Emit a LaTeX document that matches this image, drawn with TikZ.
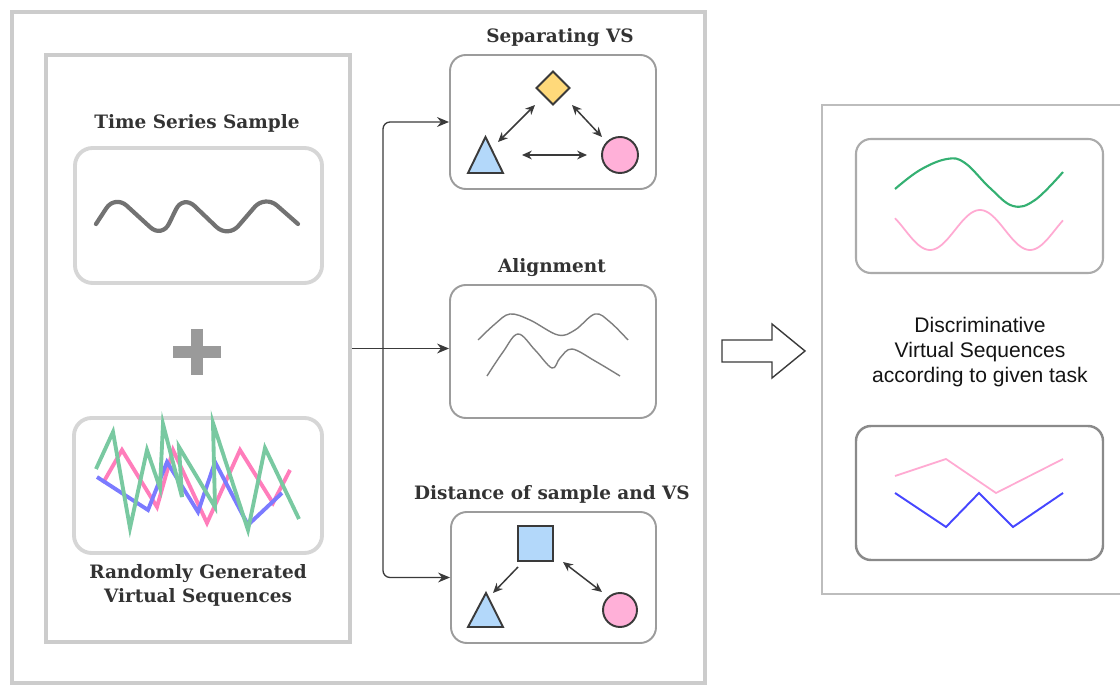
\documentclass[tikz,border=0pt]{standalone}
\usepackage{fontspec}
\setmainfont{Liberation Sans}
\newfontfamily\ttlfont{DejaVu Serif}
\usetikzlibrary{arrows.meta,shapes.geometric,calc}

\definecolor{framegray}{HTML}{CCCCCC}
\definecolor{cardlight}{HTML}{D6D6D6}
\definecolor{cardmid}{HTML}{9C9C9C}
\definecolor{cardright}{HTML}{ABABAB}
\definecolor{carddark}{HTML}{8A8A8A}
\definecolor{panelgray}{HTML}{BDBDBD}
\definecolor{inkdark}{HTML}{3A3A3A}
\definecolor{txt}{HTML}{333333}
\definecolor{wave}{HTML}{727272}
\definecolor{plusgray}{HTML}{9A9A9A}
\definecolor{mint}{HTML}{79C9A1}
\definecolor{rosy}{HTML}{FF7DBB}
\definecolor{violet}{HTML}{7B7BFF}
\definecolor{lightblue}{HTML}{B3D8FA}
\definecolor{lightpink}{HTML}{FFB0D8}
\definecolor{sand}{HTML}{FFD97A}
\definecolor{leaf}{HTML}{34B072}
\definecolor{softpink}{HTML}{FFAAD2}
\definecolor{deepblue}{HTML}{4646FF}
\definecolor{curvegray}{HTML}{7E7E7E}

\newdimen\pxu \pxu=0.02cm

\tikzset{
  bigframe/.style={draw=framegray, line width=2.8pt, inner sep=0pt},
  lightcard/.style={draw=cardlight, line width=2.2pt, rounded corners=10pt, inner sep=0pt},
  midcard/.style={draw=cardmid, line width=1.1pt, rounded corners=9pt, inner sep=0pt},
  ttl/.style={font=\ttlfont\bfseries\fontsize{10.5}{14}\selectfont, text=txt, inner sep=0pt},
  glyph/.style={draw=inkdark, line width=1.1pt, inner sep=0pt},
  conn/.style={draw=inkdark, line width=0.75pt, -{Stealth[length=6.8pt, width=5.6pt]}},
  dbl/.style={draw=inkdark, line width=0.85pt, {Stealth[length=5.6pt, width=5pt]}-{Stealth[length=5.6pt, width=5pt]}},
  sgl/.style={draw=inkdark, line width=0.85pt, -{Stealth[length=5.6pt, width=5pt]}},
  rough/.style={line width=2.2pt},
}

\begin{document}
\begin{tikzpicture}[x=0.02cm, y=-0.02cm]
\useasboundingbox (0,0) rectangle (1120,685);

% ---------- left part: frames ----------
\node[bigframe, minimum width=693\pxu, minimum height=671\pxu] (outer) at (358.5,347.5) {};
\node[bigframe, minimum width=304\pxu, minimum height=587\pxu] (panel) at (198,348.5) {};

% time series sample
\node[ttl] (tsstitle) at (197,123) {Time Series Sample};
\node[lightcard, minimum width=247\pxu, minimum height=135\pxu] (sample) at (198.5,215.5) {};
\draw[wave, line width=2.4pt, line cap=round, rounded corners=9pt]
  (96,224) -- (115,195) -- (162,238) -- (183,195) -- (228,238) -- (265,195) -- (298,224);

% plus sign
\draw[plusgray, line width=6.8pt] (173,352) -- (221,352);
\draw[plusgray, line width=6.8pt] (197,329) -- (197,375);

% randomly generated sequences
\node[lightcard, minimum width=248\pxu, minimum height=135\pxu] (random) at (198,485.5) {};
\draw[rosy, rough] (103,483) -- (122,450) -- (157,507) -- (173,450) -- (207,523) -- (240,450) -- (273,503) -- (290,470);
\draw[violet, rough] (97,477) -- (148,510) -- (167,462) -- (198,512) -- (215,462) -- (248,525) -- (282,493);
\draw[mint, rough] (96,469) -- (113,432) -- (130,528) -- (147,450) -- (160,488) -- (163,424)
  -- (182,497) -- (179,447) -- (215,507) -- (213,423) -- (248,530) -- (265,448) -- (299,519);
\node[ttl, align=center] (rndtitle) at (198,585.5) {Randomly Generated\\Virtual Sequences};

% ---------- middle column ----------
\node[ttl] (septitle) at (560,38) {Separating VS};
\node[midcard, minimum width=206\pxu, minimum height=134\pxu] (sep) at (553,122) {};
\node[ttl] (aligntitle) at (552,268) {Alignment};
\node[midcard, minimum width=206\pxu, minimum height=133\pxu] (align) at (553,351.5) {};
\node[ttl] (disttitle) at (552,494) {Distance of sample and VS};
\node[midcard, minimum width=205\pxu, minimum height=131\pxu] (dist) at (553.5,577.5) {};

% connectors from the left panel
\coordinate (trunk) at (383,348);
\draw[conn] (panel.east) -- (panel.east -| align.west);
\draw[conn, rounded corners=4pt] (trunk) |- (sep.west);
\draw[conn, rounded corners=4pt] (trunk) |- (dist.west);

% separating VS glyphs
\node[glyph, diamond, fill=sand, minimum width=34\pxu, minimum height=34\pxu] (dia) at (553,88) {};
\node[glyph, circle, fill=lightpink, minimum size=36\pxu] (circA) at (620,155) {};
\draw[glyph, fill=lightblue, line join=miter] (468,173) -- (503,173) -- (485.5,137) -- cycle;
\coordinate (triA) at (485,161);
\draw[dbl] ([shift={(-18,17)}]dia.center) -- ([shift={(13,-19)}]triA);
\draw[dbl] ([shift={(19,17)}]dia.center) -- ([shift={(-18,-18)}]circA.center);
\draw[dbl] ([shift={(37,-6)}]triA) -- ([shift={(-33,0)}]circA.center);

% alignment curves
\draw[curvegray, line width=0.8pt] plot[smooth, tension=0.6] coordinates
  {(478,340) (495,324) (510,314) (530,320) (558,335) (575,330) (595,314) (610,322) (628,340)};
\draw[curvegray, line width=0.8pt] plot[smooth, tension=0.6] coordinates
  {(487,376) (503,352) (518,334) (535,350) (552,368) (560,358) (572,349) (595,361) (620,376)};

% distance glyphs
\node[glyph, rectangle, fill=lightblue, minimum size=35\pxu] (sq) at (535.5,543.5) {};
\node[glyph, circle, fill=lightpink, minimum size=34\pxu] (circB) at (620,610) {};
\draw[glyph, fill=lightblue, line join=miter] (468,627) -- (503,627) -- (486,593) -- cycle;
\coordinate (triB) at (486,615);
\draw[sgl] ([shift={(-17.5,23.5)}]sq.center) -- ([shift={(7,-22)}]triB);
\draw[dbl] ([shift={(27.5,18.5)}]sq.center) -- ([shift={(-18,-18)}]circB.center);

% ---------- hollow arrow ----------
\draw[inkdark, line width=0.8pt, fill=white, line join=miter]
  (722,340) -- (772,340) -- (772,324) -- (805,351) -- (772,378) -- (772,362) -- (722,362) -- cycle;

% ---------- right panel ----------
\draw[panelgray, line width=1.4pt] (1122,105) -- (822,105) -- (822,594) -- (1122,594);
\node[draw=cardright, line width=1.2pt, rounded corners=8.5pt, inner sep=0pt,
      minimum width=247\pxu, minimum height=134\pxu] (rtop) at (979.5,206) {};
\draw[leaf, line width=1.2pt] plot[smooth, tension=0.65] coordinates
  {(895,189) (920,170) (947,159) (965,163) (990,188) (1013,206) (1035,200) (1063,172)};
\draw[softpink, line width=1pt] plot[domain=895:1063, samples=80, smooth]
  (\x, {230-20*cos((\x-980)*3.6)});

\node[align=center, font=\fontsize{12}{14.2}\selectfont, text=black!92, inner sep=0pt] (result) at (980,352)
  {Discriminative\\Virtual Sequences\\according to given task};

\node[draw=carddark, line width=1.4pt, rounded corners=8.5pt, inner sep=0pt,
      minimum width=247\pxu, minimum height=134\pxu] (rbot) at (979.5,493) {};
\draw[softpink, line width=1pt] (895,476) -- (946,459) -- (996,493) -- (1063,459);
\draw[deepblue, line width=1.1pt] (895,493) -- (946,527) -- (979,493) -- (1013,527) -- (1063,493);
\end{tikzpicture}
\end{document}
